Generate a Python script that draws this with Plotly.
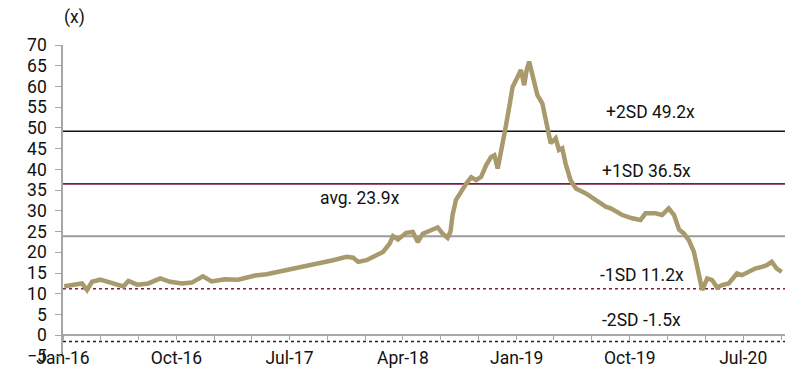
import plotly.graph_objects as go

# ---- data ----
dates = [
    "2016-01-04", "2016-01-19", "2016-02-01", "2016-02-16", "2016-02-28", "2016-03-11",
    "2016-03-31", "2016-04-29", "2016-05-26", "2016-06-07", "2016-06-28", "2016-07-25",
    "2016-08-23", "2016-09-16", "2016-10-14", "2016-11-07", "2016-12-04", "2016-12-25",
    "2017-01-26", "2017-02-27", "2017-03-28", "2017-04-09", "2017-05-07", "2017-06-16",
    "2017-07-26", "2017-09-04", "2017-10-14", "2017-11-16", "2017-12-02", "2017-12-14",
    "2018-01-03", "2018-01-27", "2018-02-12", "2018-02-28", "2018-03-08", "2018-03-20",
    "2018-04-09", "2018-04-25", "2018-05-07", "2018-05-19", "2018-06-12", "2018-06-24",
    "2018-07-06", "2018-07-18", "2018-07-25", "2018-07-30", "2018-08-07", "2018-08-19",
    "2018-09-01", "2018-09-13", "2018-09-25", "2018-10-07", "2018-10-19", "2018-10-31",
    "2018-11-08", "2018-11-16", "2018-11-26", "2018-12-04", "2018-12-14", "2018-12-22",
    "2019-01-03", "2019-01-11", "2019-01-19", "2019-01-25", "2019-01-31", "2019-02-12",
    "2019-02-20", "2019-03-04", "2019-03-16", "2019-03-24", "2019-04-05", "2019-04-13",
    "2019-04-21", "2019-04-29", "2019-05-11", "2019-05-24", "2019-06-17", "2019-07-11",
    "2019-08-04", "2019-08-16", "2019-09-13", "2019-10-07", "2019-10-27", "2019-11-08",
    "2019-12-02", "2019-12-18", "2020-01-03", "2020-01-16", "2020-01-28", "2020-02-09",
    "2020-02-21", "2020-03-04", "2020-03-12", "2020-03-20", "2020-03-24", "2020-04-05",
    "2020-04-17", "2020-04-29", "2020-05-11", "2020-05-27", "2020-06-16", "2020-06-28",
    "2020-07-14", "2020-07-30", "2020-08-15", "2020-08-27", "2020-09-08", "2020-09-20",
    "2020-10-02",
]
pe_values = [
    11.8, 12.0, 12.2, 12.5, 10.9, 12.9,
    13.4, 12.6, 11.8, 13.1, 12.2, 12.5,
    13.7, 12.9, 12.5, 12.7, 14.2, 13.0,
    13.5, 13.4, 14.2, 14.4, 14.7, 15.5,
    16.3, 17.3, 18.1, 18.9, 18.7, 17.7,
    18.1, 19.3, 20.1, 22.1, 23.9, 23.1,
    24.7, 24.9, 22.5, 24.5, 25.7, 26.0,
    24.5, 23.5, 25.0, 29.0, 32.6, 34.6,
    36.6, 38.1, 37.4, 38.2, 41.0, 43.0,
    43.4, 40.2, 44.7, 49.5, 55.1, 59.9,
    62.3, 64.0, 60.3, 64.0, 66.0, 61.5,
    57.9, 55.9, 50.3, 46.3, 47.5, 44.7,
    45.1, 41.4, 37.4, 35.4, 34.2, 32.6,
    31.0, 30.6, 29.0, 28.2, 27.8, 29.4,
    29.4, 29.0, 30.6, 29.0, 25.5, 24.5,
    22.9, 20.1, 16.5, 12.1, 10.9, 13.7,
    13.3, 11.5, 12.1, 12.5, 14.9, 14.5,
    15.3, 16.1, 16.5, 16.9, 17.7, 16.1,
    15.3,
]

band_names = ["+2SD", "+1SD", "avg.", "-1SD", "-2SD"]
band_values = [49.2, 36.5, 23.9, 11.2, -1.5]

y_ticks = list(range(-5, 75, 5))
x_tick_labels = ["Jan-16", "Oct-16", "Jul-17", "Apr-18", "Jan-19", "Oct-19", "Jul-20"]
x_tick_dates = ["2016-01-01", "2016-10-01", "2017-07-01", "2018-04-01",
                "2019-01-01", "2019-10-01", "2020-07-01"]

# ---- styles ----
FONT = "Roboto"
FS = 17.5
GOLD = "#A89A6C"
MAROON = "#7A1F3D"
band_styles = {
    "+2SD": dict(color="#111111", width=1.6, dash="solid"),
    "+1SD": dict(color=MAROON, width=1.6, dash="solid"),
    "avg.": dict(color="#9B9B9B", width=2.0, dash="solid"),
    "-1SD": dict(color=MAROON, width=1.6, dash="dot"),
    "-2SD": dict(color="#222222", width=1.6, dash="dot"),
}
label_pos = {  # paper coords of the label centres
    "+2SD": (0.814, 0.785),
    "+1SD": (0.808, 0.595),
    "avg.": (0.411, 0.508),
    "-1SD": (0.802, 0.260),
    "-2SD": (0.801, 0.116),
}

x_start, x_end = "2016-01-01", "2020-10-10"

fig = go.Figure()

for name, val in zip(band_names, band_values):
    fig.add_trace(go.Scatter(
        x=[x_start, x_end], y=[val, val], mode="lines",
        line=band_styles[name], hoverinfo="skip", showlegend=False,
    ))
    lx, ly = label_pos[name]
    fig.add_annotation(
        x=lx, y=ly, xref="paper", yref="paper", showarrow=False,
        xanchor="center", yanchor="middle",
        text=f"{name} {val}x", font=dict(family=FONT, size=FS, color="#111111"),
    )

fig.add_trace(go.Scatter(
    x=dates, y=pe_values, mode="lines",
    line=dict(color=GOLD, width=4.5), showlegend=False,
))

fig.add_annotation(x=0.0166, y=1.09, xref="paper", yref="paper", showarrow=False,
                   xanchor="center", yanchor="middle",
                   text="(x)", font=dict(family=FONT, size=FS, color="#111111"))

# the page body adds an 8px offset, so the figure is 8px smaller than the window
fig.update_layout(
    width=792, height=364,
    margin=dict(l=55, r=15, t=37, b=16, autoexpand=False),
    paper_bgcolor="white", plot_bgcolor="white",
    font=dict(family=FONT, size=FS, color="#111111"),
    showlegend=False,
    xaxis=dict(
        type="date", range=[x_start, x_end],
        anchor="free", position=5 / 75, automargin=False,
        showgrid=False, zeroline=False,
        showline=True, linecolor="#A6A6A6", linewidth=1.5,
        ticks="outside", ticklen=4, tickcolor="#A6A6A6", tickwidth=1.2,
        tickvals=x_tick_dates, ticktext=x_tick_labels,
        minor=dict(dtick="M3", tick0="2016-01-01", ticks="outside",
                   ticklen=4, tickcolor="#A6A6A6", tickwidth=1.2, showgrid=False),
        ticklabelstandoff=3,
    ),
    yaxis=dict(
        range=[-5, 70], tickvals=y_ticks, automargin=False,
        showgrid=False, zeroline=False,
        showline=True, linecolor="#A6A6A6", linewidth=1.5,
        ticks="outside", ticklen=6, tickcolor="#A6A6A6", tickwidth=1.2,
        ticklabelstandoff=5,
    ),
)

fig.write_html("out.html")
